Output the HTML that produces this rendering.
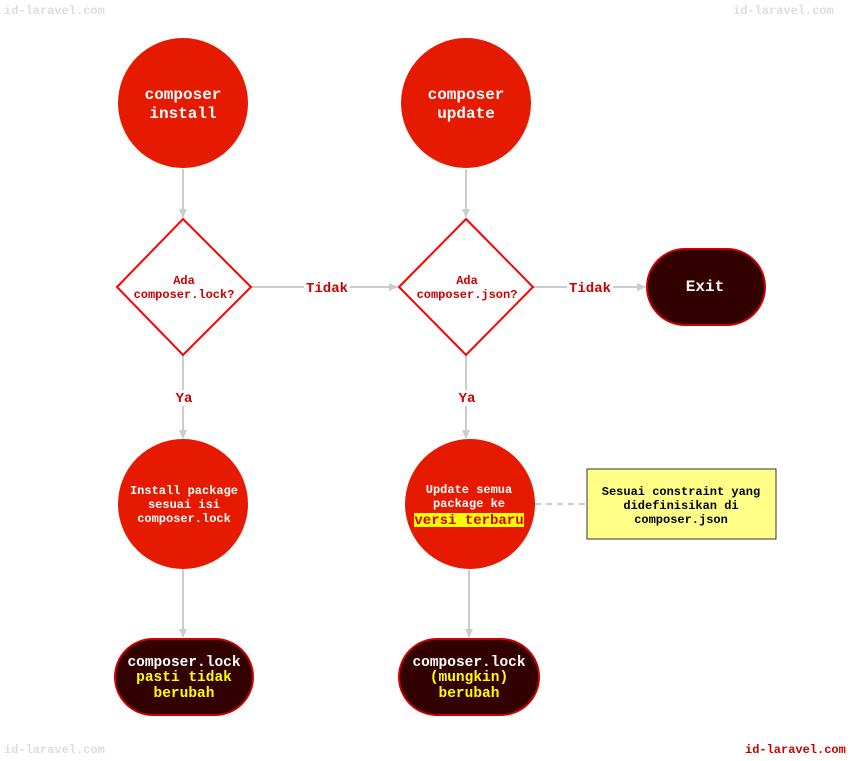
<!DOCTYPE html>
<html><head><meta charset="utf-8"><style>
html,body{margin:0;padding:0;background:#fff;}
svg{display:block;}
text{font-family:"Liberation Mono",monospace;font-weight:bold;}
</style></head><body>
<svg width="856" height="761" viewBox="0 0 856 761" xmlns="http://www.w3.org/2000/svg">
<defs>
<marker id="ar" markerWidth="10" markerHeight="10" refX="8" refY="5" orient="auto" markerUnits="userSpaceOnUse">
<path d="M0,1 L9,5 L0,9 z" fill="#ccc"/></marker>
</defs>
<g font-size="12" fill="#ddd">
<text x="4" y="14">id-laravel.com</text>
<text x="733" y="14">id-laravel.com</text>
<text x="4" y="753">id-laravel.com</text>
</g>
<text x="745" y="753" font-size="12" fill="#cc0000">id-laravel.com</text>

<g stroke="#ccc" stroke-width="2" fill="none">
<line x1="183" y1="169" x2="183" y2="217" marker-end="url(#ar)"/>
<line x1="466" y1="169" x2="466" y2="217" marker-end="url(#ar)"/>
<line x1="251" y1="287" x2="397" y2="287" marker-end="url(#ar)"/>
<line x1="533" y1="287" x2="645" y2="287" marker-end="url(#ar)"/>
<line x1="183" y1="355" x2="183" y2="438" marker-end="url(#ar)"/>
<line x1="466" y1="355" x2="466" y2="438" marker-end="url(#ar)"/>
<line x1="183" y1="569" x2="183" y2="637" marker-end="url(#ar)"/>
<line x1="469" y1="570" x2="469" y2="637" marker-end="url(#ar)"/>
<line x1="535" y1="504" x2="585" y2="504" stroke-dasharray="6,5"/>
</g>
<rect x="304" y="280" width="46" height="16" fill="#fff"/>
<rect x="567" y="280" width="46" height="16" fill="#fff"/>
<rect x="174" y="390" width="20" height="16" fill="#fff"/>
<rect x="457" y="390" width="20" height="16" fill="#fff"/>
<g font-size="14" fill="#cc0000" text-anchor="middle">
<text x="327" y="292">Tidak</text>
<text x="590" y="292">Tidak</text>
<text x="184" y="402">Ya</text>
<text x="467" y="402">Ya</text>
</g>

<circle cx="183" cy="103" r="65" fill="#e61a00"/>
<circle cx="466" cy="103" r="65" fill="#e61a00"/>
<g font-size="16" fill="#fff" text-anchor="middle">
<text x="183" y="99">composer</text><text x="183" y="118">install</text>
<text x="466" y="99">composer</text><text x="466" y="118">update</text>
</g>

<polygon points="183,219 251,287 183,355 117,287" fill="#fff" stroke="#ff0000" stroke-width="2"/>
<polygon points="466,219 533,287 466,355 399,287" fill="#fff" stroke="#ff0000" stroke-width="2"/>
<g font-size="12" fill="#cc0000" text-anchor="middle">
<text x="184" y="284">Ada</text><text x="184" y="298">composer.lock?</text>
<text x="467" y="284">Ada</text><text x="467" y="298">composer.json?</text>
</g>

<rect x="647" y="249" width="118" height="76" rx="38" fill="#330000" stroke="#cc0000" stroke-width="2"/>
<text x="705" y="291" font-size="16" fill="#fff" text-anchor="middle">Exit</text>

<circle cx="183" cy="504" r="65" fill="#e61a00"/>
<circle cx="470" cy="504" r="65" fill="#e61a00"/>
<g font-size="12" fill="#fff" text-anchor="middle">
<text x="184" y="494">Install package</text>
<text x="184" y="508">sesuai isi</text>
<text x="184" y="522">composer.lock</text>
<text x="469" y="493">Update semua</text>
<text x="469" y="507">package ke</text>
</g>
<rect x="414" y="513" width="110" height="14" fill="#ffff00"/>
<text x="469" y="524" font-size="14" fill="#cc0000" text-anchor="middle">versi terbaru</text>

<rect x="587" y="469" width="189" height="70" fill="#ffff88" stroke="#333" stroke-width="1"/>
<g font-size="12" fill="#000" text-anchor="middle">
<text x="681" y="495">Sesuai constraint yang</text>
<text x="681" y="509">didefinisikan di</text>
<text x="681" y="523">composer.json</text>
</g>

<rect x="115" y="639" width="138" height="76" rx="38" fill="#330000" stroke="#cc0000" stroke-width="2"/>
<rect x="399" y="639" width="140" height="76" rx="38" fill="#330000" stroke="#cc0000" stroke-width="2"/>
<g font-size="14.5" text-anchor="middle">
<text x="184" y="666" fill="#fff">composer.lock</text>
<text x="184" y="681" fill="#ffff00">pasti tidak</text>
<text x="184" y="697" fill="#ffff00">berubah</text>
<text x="469" y="666" fill="#fff">composer.lock</text>
<text x="469" y="681" fill="#ffff00">(mungkin)</text>
<text x="469" y="697" fill="#ffff00">berubah</text>
</g>
</svg>
</body></html>
